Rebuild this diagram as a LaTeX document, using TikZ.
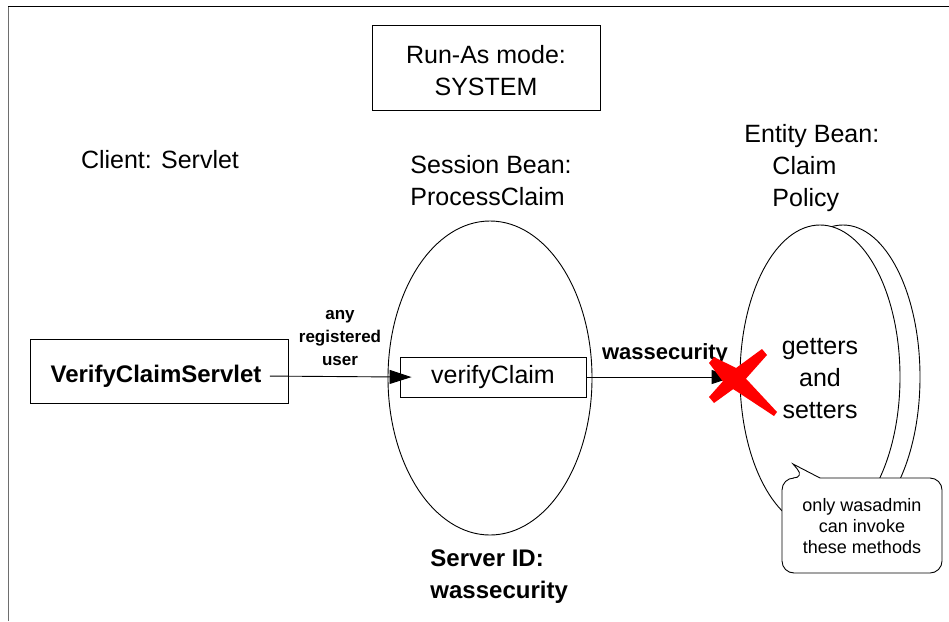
\documentclass[tikz,border=0pt]{standalone}
\usepackage{fontspec}
\setmainfont{Liberation Sans}
\usepackage{tikz}
\usetikzlibrary{arrows.meta,shapes.geometric}
\definecolor{crossred}{HTML}{FF0000}
\definecolor{framegray}{HTML}{6E6E6E}

\begin{document}
\begin{tikzpicture}[x=1pt,y=-1pt,>={Triangle[length=22pt,width=14pt]},line width=0.9pt,
  txt/.style={inner sep=0pt,font=\fontsize{25}{32}\selectfont},
  boldtxt/.style={inner sep=0pt,font=\fontsize{24}{32}\selectfont\bfseries},
  box/.style={draw,inner sep=0pt}]
\useasboundingbox (0,0) rectangle (949,621);
% frame
\draw[framegray] (8,621) -- (8,6);
\draw (8,6) -- (949,6);
% run-as mode
\node[box,txt,align=center,minimum width=228pt,minimum height=85pt] (runas) at (486,67.5) {\rule{0pt}{25pt}Run-As mode:\\SYSTEM};
\node[txt] (client) at (160,160) {Client: Servlet};
% session bean
\draw (490,378) ellipse [x radius=102, y radius=157];
\node[txt,align=left,anchor=west] (session) at (410,181) {Session Bean:\\ProcessClaim};
\node[box,txt,minimum width=186pt,minimum height=40pt] (verify) at (493,377) {verifyClaim};
\node[boldtxt,align=left,anchor=west] (serverid) at (430,577) {Server ID:\\wassecurity};
% entity bean
\draw (843,377) ellipse [x radius=77, y radius=152];
\node[draw,fill=white,ellipse,inner sep=0pt,minimum width=160pt,minimum height=304pt] (claimbean) at (820,377) {};
\node[txt,align=left,anchor=west] (entity) at (744,168) {Entity Bean:\\\hspace*{28pt}Claim\\\hspace*{28pt}Policy};
\node[txt,align=center] (getters) at (820,379) {getters\\and\\setters};
% client
\node[box,minimum width=258pt,minimum height=64pt] (servletbox) at (159,371) {};
\node[boldtxt] (servlet) at (156,376) {VerifyClaimServlet};
\node[inner sep=0pt,align=center,font=\fontsize{17}{23}\selectfont\bfseries] (anyuser) at (340,338) {any\\registered\\user};
% calls
\draw[->,shorten <=8pt,shorten >=-12pt] (servlet.east) -- (verify.west);
\draw[->,shorten >=6pt] (verify.east) -- (claimbean.west);
\node[inner sep=0pt,font=\fontsize{22}{28}\selectfont\bfseries] (wasarrow) at (665,354) {wassecurity};
% denied
\fill[crossred] (762,349) -- (767,355) -- (743,382) -- (714,403) -- (709,397) -- (732,371) -- cycle;
\fill[crossred] (714,357) -- (736,368) -- (777,412) -- (774,416) -- (724,383) -- (709,363) -- cycle;
% note
\draw[fill=white,rounded corners=12pt] (820,478) -- (942,478) -- (942,573) -- (782,573) -- (782,478) -- (805,478) [sharp corners] -- (793,464) -- cycle;
\node[inner sep=0pt,align=center,font=\fontsize{18}{21}\selectfont] (note) at (862,526) {only wasadmin\\can invoke\\these methods};
\end{tikzpicture}
\end{document}
